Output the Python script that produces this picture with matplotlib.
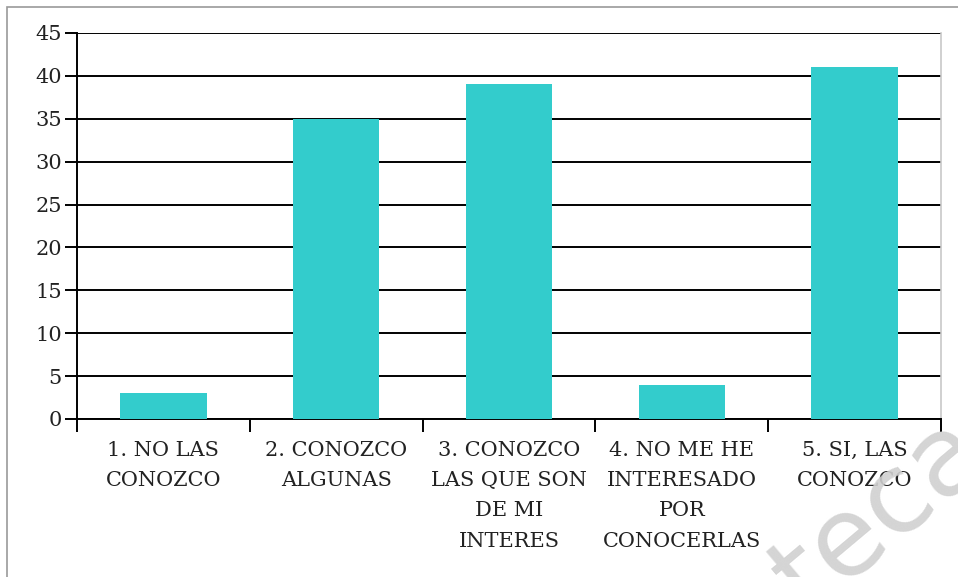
import matplotlib
matplotlib.use("Agg")
import matplotlib.pyplot as plt
from matplotlib.patches import Rectangle
import numpy as np

categories = ["1. NO LAS\nCONOZCO", "2. CONOZCO\nALGUNAS", "3. CONOZCO\nLAS QUE SON\nDE MI\nINTERES",
              "4. NO ME HE\nINTERESADO\nPOR\nCONOCERLAS", "5. SI, LAS\nCONOZCO"]
values = [3, 35, 39, 4, 41]
yticks = [0, 5, 10, 15, 20, 25, 30, 35, 40, 45]

plt.rcParams['font.family'] = ['DejaVu Serif']
fig = plt.figure(figsize=(9.58, 5.77), dpi=100)
fig.patch.set_facecolor('white')
ax = fig.add_axes([77/958, 1-419/577, (941-77)/958, (419-33)/577])

x = np.arange(len(categories))
ax.bar(x, values, width=0.5, color='#33CCCC', zorder=3)
ax.set_xlim(-0.5, len(categories)-0.5)
ax.set_ylim(0, 45)
ax.set_yticks(yticks)
ax.set_yticklabels([str(v) for v in yticks], fontsize=15, color='#222222')
ax.yaxis.grid(True, color='black', linewidth=1.4, zorder=1)
ax.set_axisbelow(True)
ax.tick_params(axis='y', length=9, width=1.4, color='black', pad=2)

ax.set_xticks(x)
ax.set_xticklabels(categories, fontsize=15, color='#222222', linespacing=1.74, va='top')
ax.tick_params(axis='x', which='major', length=0, pad=16)
ax.set_xticks(np.arange(-0.5, len(categories), 1.0), minor=True)
ax.tick_params(axis='x', which='minor', length=9, width=1.4, color='black')

ax.spines['top'].set_visible(False)
ax.spines['left'].set_color('black')
ax.spines['left'].set_linewidth(1.4)
ax.spines['bottom'].set_color('black')
ax.spines['bottom'].set_linewidth(1.4)
ax.spines['right'].set_color('#c8c8c8')
ax.spines['right'].set_linewidth(1.2)

# outer border
fig.patches.append(Rectangle((7/958, -0.1), 1.2, 1-7/577+0.1, transform=fig.transFigure,
                             fill=False, edgecolor='#9a9a9a', linewidth=1.2))

# watermark
fig.text(880/958, 1-515/577, 'teca', fontsize=80, color='#d0d0d0', rotation=40,
         ha='center', va='center', family='DejaVu Sans', zorder=0, alpha=0.9)

fig.savefig('out.png', dpi=100)
